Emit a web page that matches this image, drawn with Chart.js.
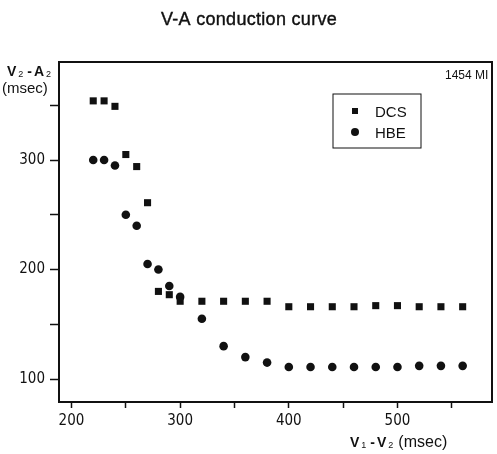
<!DOCTYPE html>
<html>
<head>
<meta charset="utf-8">
<script src="https://cdn.jsdelivr.net/npm/chart.js@4.4.1/dist/chart.umd.min.js"></script>
<style>
  html, body { margin: 0; padding: 0; background: #fff; }
  #wrap { width: 497px; height: 454px; position: relative; }
</style>
</head>
<body>
<div id="wrap"><canvas id="chartVA"></canvas></div>
<script>
// ============================================================
// DATOS — curva de conducción V-A
// ============================================================
const v1v2 = [220, 230, 240, 250, 260, 270, 280, 290, 300, 320, 340, 360, 380, 400, 420, 440, 460, 480, 500, 520, 540, 560];
const dcsV2A2 = [354, 354, 349, 305, 294, 261, 180, 177, 171, 171, 171, 171, 171, 166, 166, 166, 166, 167, 167, 166, 166, 166];
const hbeV2A2 = [300, 300, 295, 250, 240, 205, 200, 185, 175, 155, 130, 120, 115, 111, 111, 111, 111, 111, 111, 112, 112, 112];
const xTicks = [200, 250, 300, 350, 400, 450, 500, 550];
const yTicks = [100, 150, 200, 250, 300, 350];
const seriesNames = ['DCS', 'HBE'];

const FONT = "'Liberation Sans', Arial, sans-serif";
const NARROW = "'Liberation Sans Narrow', 'DejaVu Sans Condensed', sans-serif";

let toPoints = (ys) => v1v2.map((x, i) => ({ x: x, y: ys[i] }));

// texto con subíndices: partes [texto, esSub]; devuelve x final
function drawParts(ctx, parts, x, y, size) {
    let cx = x;
    parts.forEach(p => {
        let sub = p[1];
        ctx.font = sub ? '9px ' + FONT : 'bold ' + size + 'px ' + FONT;
        let pad = (sub || p[0] === '-') ? 2 : 0;
        cx += pad;
        ctx.fillText(p[0], cx, sub ? y + 1 : y);
        cx += ctx.measureText(p[0]).width + pad;
    });
    return cx;
}

const decoPlugin = {
    id: 'deco',
    afterDraw(chart) {
        const ctx = chart.ctx;
        const a = chart.chartArea;
        ctx.save();
        // marco superior y derecho
        ctx.strokeStyle = '#111';
        ctx.lineWidth = 2;
        ctx.beginPath();
        ctx.moveTo(a.left, a.top);
        ctx.lineTo(a.right, a.top);
        ctx.lineTo(a.right, a.bottom);
        ctx.stroke();

        ctx.fillStyle = '#111';
        ctx.textBaseline = 'alphabetic';
        ctx.textAlign = 'left';

        // título
        ctx.font = '18px ' + FONT;
        if ('letterSpacing' in ctx) ctx.letterSpacing = '0.3px';
        ctx.textAlign = 'center';
        ctx.fillText('V-A conduction curve', 249, 25);
        ctx.lineWidth = 0.4;
        ctx.strokeStyle = '#111';
        ctx.strokeText('V-A conduction curve', 249, 25);
        if ('letterSpacing' in ctx) ctx.letterSpacing = '0px';
        ctx.textAlign = 'left';

        // título eje Y
        drawParts(ctx, [['V', false], ['2', true], ['-', false], ['A', false], ['2', true]], 7, 76, 14);
        ctx.font = '15px ' + FONT;
        ctx.fillText('(msec)', 2, 93);

        // título eje X
        let xe = drawParts(ctx, [['V', false], ['1', true], ['-', false], ['V', false], ['2', true]], 350, 447, 14);
        ctx.font = '16px ' + FONT;
        ctx.fillText('(msec)', xe + 3, 447);

        // etiqueta esquina
        ctx.font = '12px ' + FONT;
        ctx.fillText('1454 MI', 445, 79);

        // leyenda
        ctx.lineWidth = 1;
        ctx.strokeRect(333, 94, 88, 54);
        const styles = chart.data.datasets.map(d => d.pointStyle);
        seriesNames.forEach((name, i) => {
            let cy = 111 + i * 21;
            ctx.fillStyle = '#111';
            if (styles[i] === 'rect') {
                ctx.fillRect(352, cy - 3, 6, 6);
            } else {
                ctx.beginPath();
                ctx.arc(355, cy, 4, 0, Math.PI * 2);
                ctx.fill();
            }
            ctx.font = '15px ' + FONT;
            ctx.fillText(name, 375, cy + 6);
        });
        ctx.restore();
    }
};

new Chart(document.getElementById('chartVA').getContext('2d'), {
    type: 'scatter',
    data: {
        datasets: [
            {
                label: seriesNames[0], data: toPoints(dcsV2A2),
                pointStyle: 'rect', pointRadius: 5, pointHoverRadius: 5,
                backgroundColor: '#111', borderColor: '#111', borderWidth: 0
            },
            {
                label: seriesNames[1], data: toPoints(hbeV2A2),
                pointStyle: 'circle', pointRadius: 4.3, pointHoverRadius: 4.3,
                backgroundColor: '#111', borderColor: '#111', borderWidth: 0
            }
        ]
    },
    options: {
        responsive: true, maintainAspectRatio: false, animation: false,
        layout: { padding: { top: 62, right: 1, left: 0, bottom: 0 } },
        plugins: { legend: { display: false }, tooltip: { enabled: false }, title: { display: false } },
        scales: {
            x: {
                type: 'linear', min: 188.5, max: 587,
                afterBuildTicks: (s) => { s.ticks = xTicks.map(v => ({ value: v })); },
                afterFit: (s) => { s.height = 52; },
                border: { display: true, color: '#111', width: 2 },
                grid: { drawOnChartArea: false, drawTicks: true, tickLength: 6, color: '#111', tickWidth: 1.5 },
                ticks: {
                    color: '#111', padding: 4, maxRotation: 0,
                    font: { family: NARROW, size: 15 },
                    callback: (v) => (v % 100 === 0 ? String(v) : '')
                }
            },
            y: {
                type: 'linear', min: 79, max: 389.5,
                afterBuildTicks: (s) => { s.ticks = yTicks.map(v => ({ value: v })); },
                afterFit: (s) => { s.width = 59; },
                border: { display: true, color: '#111', width: 2 },
                grid: { drawOnChartArea: false, drawTicks: true, tickLength: 9, color: '#111', tickWidth: 1.5 },
                ticks: {
                    color: '#111', padding: 5,
                    font: { family: NARROW, size: 15 },
                    callback: (v) => (v % 100 === 0 ? String(v) : '')
                }
            }
        }
    },
    plugins: [decoPlugin]
});
</script>
</body>
</html>
